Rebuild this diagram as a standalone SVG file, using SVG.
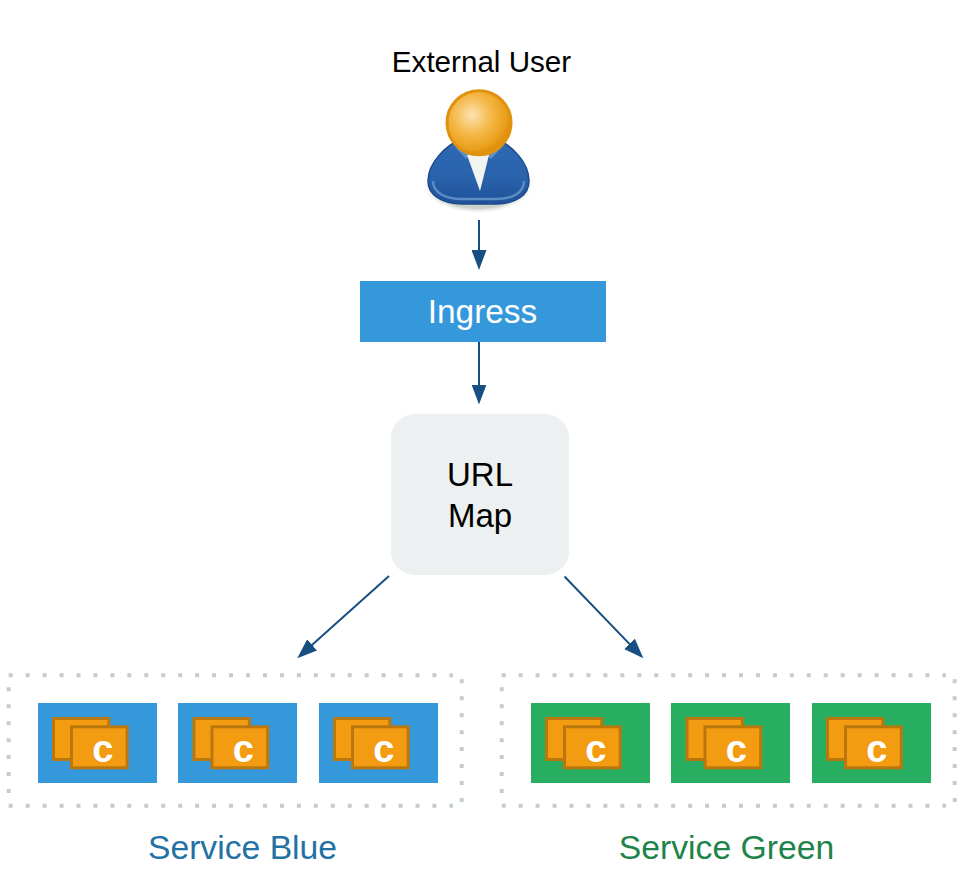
<svg xmlns="http://www.w3.org/2000/svg" width="968" height="886" viewBox="0 0 968 886">
<defs>
<radialGradient id="head" gradientUnits="userSpaceOnUse" cx="472" cy="115" r="38"><stop offset="0" stop-color="#fbe2b0"/><stop offset="0.55" stop-color="#f4b541"/><stop offset="0.9" stop-color="#ea9f1c"/><stop offset="1" stop-color="#e0920f"/></radialGradient>
<linearGradient id="body" x1="0" y1="0" x2="0" y2="1"><stop offset="0" stop-color="#2f6ab5"/><stop offset="0.6" stop-color="#2a62ac"/><stop offset="1" stop-color="#1f5198"/></linearGradient>
<radialGradient id="shadow" cx="0.5" cy="0.5" r="0.5"><stop offset="0.8" stop-color="#bcc6bc" stop-opacity="0.8"/><stop offset="1" stop-color="#ffffff" stop-opacity="0"/></radialGradient>
<marker id="arrow" markerUnits="userSpaceOnUse" markerWidth="20" markerHeight="15" refX="10" refY="7.500" orient="auto" viewBox="0 0 20 15"><path d="M0 0 L20 7.500 L0 15 Z" fill="#174f82"/></marker>
<g id="containers">
<rect x="53.500" y="718.500" width="55.300" height="41" class="cb"/>
<rect x="71.500" y="726.800" width="55.700" height="41" class="cb"/>
<text x="102.800" y="762" class="c">c</text>
</g>
</defs>
<style>
text{font-family:"Liberation Sans",Arial,sans-serif}
.cb{fill:#f39c12;stroke:#b9770e;stroke-width:3}
.c{fill:#fff;font-size:38px;font-weight:700;text-anchor:middle}
.dot{fill:none;stroke:#c3cdce;stroke-width:4;stroke-dasharray:4 12.950}
.blue{fill:#3498db}
.green{fill:#27ae60}
.conn{fill:none;stroke:#174f82;stroke-width:2;marker-end:url(#arrow)}
.lab{font-size:33px;text-anchor:middle}
.svc{font-size:33.700px;text-anchor:middle}
</style>
<rect width="968" height="886" fill="#fff"/>
<g id="connectors">
<path class="conn" d="M479 220V260"/>
<path class="conn" d="M479 342V394.500"/>
<path class="conn" d="M389 576L304.700 651.600"/>
<path class="conn" d="M564.500 576.500L636.400 651.100"/>
</g>
<g id="external-user">
<text x="481.500" y="71.500" font-size="29.600" text-anchor="middle" fill="#000">External User</text>
<ellipse cx="478" cy="186" rx="56" ry="28" fill="url(#shadow)"/>
<path d="M462 138C446 146 428 162 428 181C428 195 442 204 462 204L496 204C516 204 529 195 529 181C529 162 512 146 496 138Z" fill="url(#body)" stroke="#1c4a8c" stroke-width="1.500"/>
<path d="M433 181C433 193 446 199 462 199L496 199C512 199 524 193 524 181" fill="none" stroke="#5b8cc4" stroke-width="2.500"/>
<path d="M456 148L466 159L471 154L462 146Z" fill="#5e8fc6"/>
<path d="M501 148L491 159L486 154L495 146Z" fill="#5e8fc6"/>
<path d="M467 155L480 191L489 155Z" fill="#f2f4f2"/>
<circle cx="479" cy="122.700" r="32" fill="url(#head)" stroke="#e0920f" stroke-width="3"/>
</g>
<g id="ingress">
<rect x="360" y="281" width="246" height="61" fill="#3498db"/>
<text x="482.500" y="323" class="lab" fill="#fff" style="font-size:33.400px">Ingress</text>
</g>
<g id="url-map">
<rect x="391" y="414" width="178" height="161" rx="24" fill="#ecf0f1"/>
<text x="480" y="486" class="lab" fill="#000">URL</text>
<text x="480" y="527" class="lab" fill="#000">Map</text>
</g>
<g id="service-blue">
<path class="dot" d="M8.700 675.300H453"/>
<path class="dot" d="M8.700 805.700H453"/>
<path class="dot" d="M8.700 687.300V795"/>
<path class="dot" d="M461.700 679.300V803"/>
<rect x="38" y="703" width="119" height="80" class="blue"/>
<use href="#containers"/>
<rect x="178" y="703" width="119" height="80" class="blue"/>
<use href="#containers" x="140.500"/>
<rect x="319" y="703" width="119" height="80" class="blue"/>
<use href="#containers" x="281"/>
<text x="242.500" y="859" class="svc" fill="#2471a3">Service Blue</text>
</g>
<g id="service-green">
<path class="dot" d="M501.700 675.300H946"/>
<path class="dot" d="M501.700 805.700H946"/>
<path class="dot" d="M501.700 687.300V795"/>
<path class="dot" d="M954.700 679.300V803"/>
<rect x="531" y="703" width="119" height="80" class="green"/>
<use href="#containers" x="493"/>
<rect x="671" y="703" width="119" height="80" class="green"/>
<use href="#containers" x="633.500"/>
<rect x="812" y="703" width="119" height="80" class="green"/>
<use href="#containers" x="774"/>
<text x="726.500" y="859" class="svc" fill="#1e8449">Service Green</text>
</g>
</svg>
